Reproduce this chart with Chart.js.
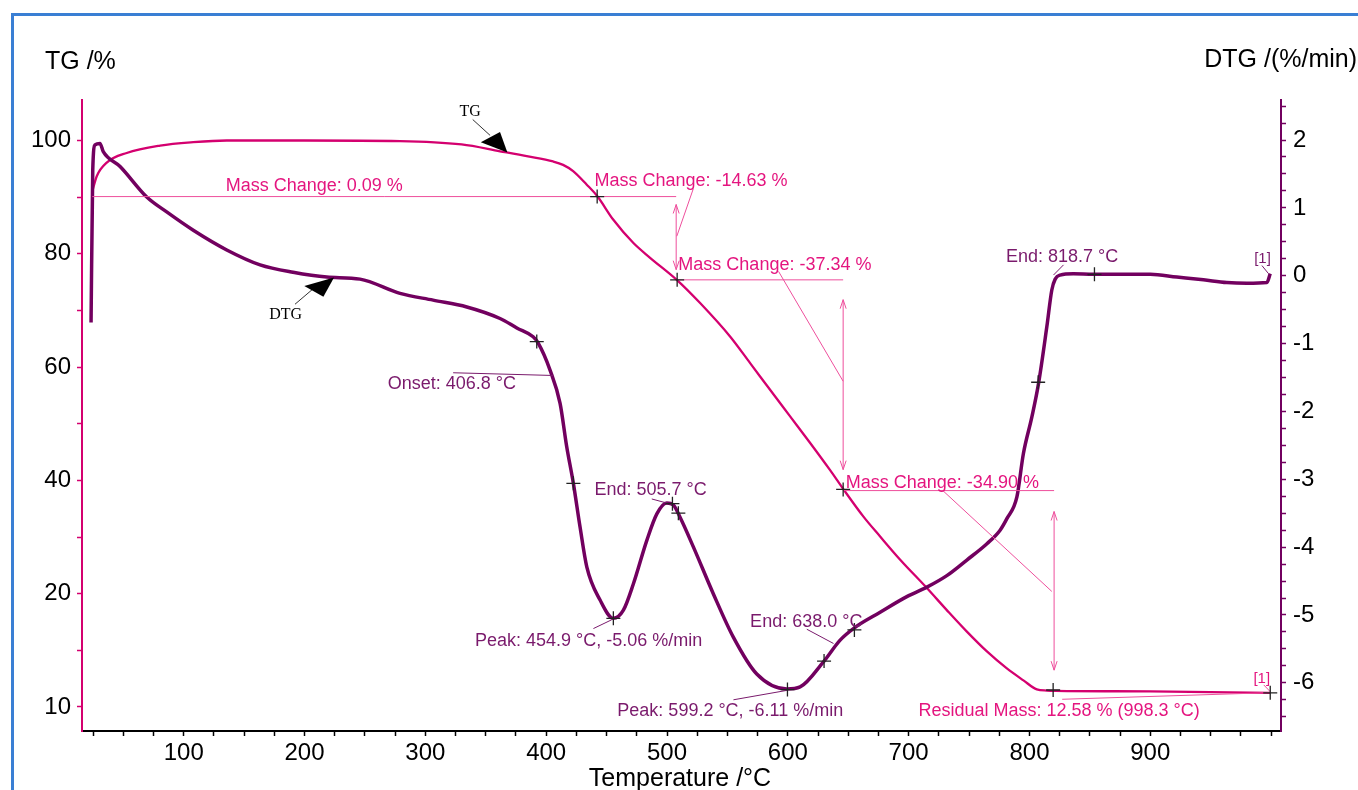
<!DOCTYPE html>
<html>
<head>
<meta charset="utf-8">
<script src="https://cdn.jsdelivr.net/npm/chart.js@4.4.1/dist/chart.umd.min.js"></script>
<style>
html, body { margin: 0; padding: 0; background: #fff; overflow: hidden; }
#chart { display: block; }
</style>
</head>
<body>
<canvas id="chart" width="1358" height="790"></canvas>
<script>
// TG curve (mass %, left axis)
var tgTemp = [24.3, 28.0, 36.3, 52.8, 80.4, 107.9, 135.6, 200, 279, 330, 361.8, 385, 405.7, 414, 422.3, 433.6, 442.2, 455.6, 472.2, 486.0, 508.1, 527.4, 552.2, 568.8, 585.3, 601.9, 618.5, 635.0, 645.5, 662.6, 676.4, 693, 715.1, 731.6, 748.2, 764.8, 781.3, 795.0, 806.1, 814.4, 822, 900, 999.3];
var tgMass = [91.0, 93.7, 96.1, 97.8, 99.1, 99.7, 100.0, 100.0, 99.9, 99.3, 98.1, 97.2, 96.3, 95.7, 94.6, 92.2, 90.2, 86.0, 81.9, 79.3, 75.4, 71.3, 65.4, 60.7, 56.0, 51.3, 46.6, 41.8, 38.6, 33.6, 30.1, 26.0, 21.0, 17.1, 13.3, 9.8, 6.8, 4.7, 3.1, 2.9, 2.85, 2.75, 2.5];

// DTG curve (%/min, right axis)
var dtgTemp = [23.3, 24.7, 26.6, 30.7, 33.4, 47.3, 69.4, 85.9, 107.9, 135.6, 163.2, 190.5, 218.4, 245.9, 279, 306.4, 334.3, 361.8, 375.7, 389.2, 393.3, 403.2, 411.5, 417, 422.5, 428, 433.6, 444.6, 455.6, 463.9, 472.2, 483.3, 491.6, 499.8, 505.3, 510.8, 521.9, 538.4, 555, 574.3, 599.2, 610.2, 629.5, 643.3, 654.3, 676.4, 698.5, 715.1, 731.6, 748.2, 764.8, 775.7, 781.3, 789.6, 795, 802, 807.5, 814.4, 818.5, 821.3, 825.4, 836.4, 852.7, 900, 922, 944, 963.4, 980, 996.5, 999.3];
var dtgRate = [-0.69, 1.56, 1.93, 1.95, 1.83, 1.61, 1.16, 0.94, 0.67, 0.38, 0.16, 0.05, -0.02, -0.05, -0.26, -0.36, -0.46, -0.63, -0.77, -0.90, -0.99, -1.39, -1.88, -2.52, -3.06, -3.70, -4.29, -4.78, -5.05, -4.93, -4.54, -3.90, -3.51, -3.35, -3.38, -3.56, -4.00, -4.69, -5.33, -5.87, -6.09, -6.06, -5.69, -5.37, -5.20, -4.96, -4.73, -4.59, -4.42, -4.19, -3.95, -3.75, -3.58, -3.26, -2.62, -2.08, -1.59, -0.75, -0.21, -0.05, 0.01, 0.03, 0.02, 0.02, -0.02, -0.06, -0.10, -0.11, -0.10, 0.03];

// ticks
var tempTicks = [25, 50, 75, 100, 125, 150, 175, 200, 225, 250, 275, 300, 325, 350, 375, 400, 425, 450, 475, 500, 525, 550, 575, 600, 625, 650, 675, 700, 725, 750, 775, 800, 825, 850, 875, 900, 925, 950, 975, 1000];
var tempLabels = [100, 200, 300, 400, 500, 600, 700, 800, 900];
var tgTicks = [0, 10, 20, 30, 40, 50, 60, 70, 80, 90, 100];
var tgTickText = { 0: '10', 20: '20', 40: '40', 60: '60', 80: '80', 100: '100' };
var dtgTicks = [-6.5, -6.25, -6, -5.75, -5.5, -5.25, -5, -4.75, -4.5, -4.25, -4, -3.75, -3.5, -3.25, -3, -2.75, -2.5, -2.25, -2, -1.75, -1.5, -1.25, -1, -0.75, -0.5, -0.25, 0, 0.25, 0.5, 0.75, 1, 1.25, 1.5, 1.75, 2, 2.25, 2.5];

// annotations on TG axis: [T, mass]
var tgCrosses = [[442.2, 90.1], [508.4, 75.4], [645.8, 38.4], [819.6, 3.0], [999.3, 2.5]];
var tgSegments = [
  [24.3, 90.1, 507.6, 90.1],
  [508.4, 75.4, 645.8, 75.4],
  [645.8, 38.2, 820.4, 38.2],
  [521.8, 91.5, 508.1, 83.1],
  [592.3, 76.9, 645.8, 57.5],
  [728.8, 38.1, 818.5, 20.4],
  [827.1, 1.36, 999.3, 2.53],
  [993.9, 3.9, 999.3, 2.7]
];
var tgArrows = [[507.6, 88.7, 77.2], [645.8, 71.9, 41.9], [820.4, 34.5, 6.5]];
var tgTexts = [
  ['Mass Change: 0.09 %', 134.8, 92.2, 18],
  ['Mass Change: -14.63 %', 439.9, 93.1, 18],
  ['Mass Change: -37.34 %', 509.4, 78.3, 18],
  ['Mass Change: -34.90 %', 648, 39.8, 18],
  ['Residual Mass: 12.58 % (998.3 °C)', 708.1, -0.5, 18],
  ['[1]', 985.4, 5.25, 15]
];

// annotations on DTG axis: [T, rate]
var dtgCrosses = [[392.2, -0.97], [422.5, -3.06], [455.6, -5.05], [504.5, -3.36], [509.4, -3.50], [599.7, -6.10], [630, -5.68], [655.1, -5.22], [807.2, -1.57], [853.8, 0.02]];
var dtgSegments = [
  [323, -1.43, 405.7, -1.47],
  [439.1, -5.20, 454.3, -5.07],
  [487.4, -3.29, 503.9, -3.37],
  [555, -6.25, 599.7, -6.11],
  [615.7, -5.21, 637.8, -5.42],
  [828.2, 0.16, 819.9, 0.01],
  [992.4, 0.15, 997.9, 0.03]
];
var dtgTexts = [
  ['Onset: 406.8 °C', 268.9, -1.58, 18],
  ['End: 505.7 °C', 439.9, -3.14, 18],
  ['Peak: 454.9 °C, -5.06 %/min', 341.1, -5.36, 18],
  ['Peak: 599.2 °C, -6.11 %/min', 458.9, -6.40, 18],
  ['End: 638.0 °C', 568.8, -5.08, 18],
  ['End: 818.7 °C', 780.5, 0.30, 18],
  ['[1]', 986, 0.26, 15]
];

// curve tags
var tgTag = { text: 'TG', at: [337.0, 105.35], leader: [339.2, 103.7, 353.6, 100.9], head: [[361.8, 101.5], [345.9, 99.7], [367.9, 97.9]] };
var dtgTag = { text: 'DTG', at: [184.3, -0.556], leader: [192.1, -0.42, 207.3, -0.19], head: [[199.8, -0.153], [215.6, -0.311], [224.4, -0.025]] };

var TG_COLOR = '#d4006f';
var TG_TEXT = '#e4157f';
var TG_THIN = '#ee4f9c';
var DTG_COLOR = '#72005f';
var DTG_TEXT = '#7a1a6c';
var SANS = "'Liberation Sans', Arial, sans-serif";

function pairs(xs, ys) {
  return xs.map(function (x, i) { return { x: x, y: ys[i] }; });
}

var overlay = {
  id: 'overlay',
  beforeDraw: function (chart) {
    var ctx = chart.ctx;
    ctx.save();
    ctx.strokeStyle = '#3a7fd4';
    ctx.lineWidth = 3;
    ctx.beginPath();
    ctx.moveTo(12.5, 790);
    ctx.lineTo(12.5, 14.5);
    ctx.lineTo(1358, 14.5);
    ctx.stroke();
    ctx.restore();
  },
  afterDatasetsDraw: function (chart) {
    var ctx = chart.ctx;
    var sx = chart.scales.x;
    function draw(axisId, crosses, segments, arrows, texts, thin, textColor) {
      var sy = chart.scales[axisId];
      var X = function (v) { return sx.getPixelForValue(v); };
      var Y = function (v) { return sy.getPixelForValue(v); };
      ctx.save();
      ctx.strokeStyle = thin;
      ctx.lineWidth = 1;
      segments.forEach(function (s) {
        ctx.beginPath();
        ctx.moveTo(X(s[0]), Y(s[1]));
        ctx.lineTo(X(s[2]), Y(s[3]));
        ctx.stroke();
      });
      arrows.forEach(function (a) {
        var x = X(a[0]), y1 = Y(a[1]), y2 = Y(a[2]);
        ctx.beginPath();
        ctx.moveTo(x, y1); ctx.lineTo(x, y2);
        ctx.moveTo(x - 3, y1 + 9); ctx.lineTo(x, y1); ctx.lineTo(x + 3, y1 + 9);
        ctx.moveTo(x - 3, y2 - 9); ctx.lineTo(x, y2); ctx.lineTo(x + 3, y2 - 9);
        ctx.stroke();
      });
      ctx.strokeStyle = '#222';
      ctx.lineWidth = 1.3;
      crosses.forEach(function (c) {
        var x = X(c[0]), y = Y(c[1]);
        ctx.beginPath();
        ctx.moveTo(x - 7, y); ctx.lineTo(x + 7, y);
        ctx.moveTo(x, y - 7); ctx.lineTo(x, y + 7);
        ctx.stroke();
      });
      ctx.fillStyle = textColor;
      ctx.textAlign = 'left';
      ctx.textBaseline = 'alphabetic';
      texts.forEach(function (t) {
        ctx.font = t[3] + 'px ' + SANS;
        ctx.fillText(t[0], X(t[1]), Y(t[2]) + 0.36 * t[3]);
      });
      ctx.restore();
    }
    function tag(axisId, t) {
      var sy = chart.scales[axisId];
      var X = function (v) { return sx.getPixelForValue(v); };
      var Y = function (v) { return sy.getPixelForValue(v); };
      ctx.save();
      ctx.fillStyle = '#000';
      ctx.strokeStyle = '#333';
      ctx.lineWidth = 1;
      ctx.font = "16px 'Liberation Serif', 'Times New Roman', serif";
      ctx.textAlign = 'center';
      ctx.textBaseline = 'alphabetic';
      ctx.fillText(t.text, X(t.at[0]), Y(t.at[1]) + 6);
      ctx.beginPath();
      ctx.moveTo(X(t.leader[0]), Y(t.leader[1]));
      ctx.lineTo(X(t.leader[2]), Y(t.leader[3]));
      ctx.stroke();
      ctx.beginPath();
      t.head.forEach(function (p, i) {
        if (i === 0) ctx.moveTo(X(p[0]), Y(p[1])); else ctx.lineTo(X(p[0]), Y(p[1]));
      });
      ctx.closePath();
      ctx.fill();
      ctx.restore();
    }
    draw('yTG', tgCrosses, tgSegments, tgArrows, tgTexts, TG_THIN, TG_TEXT);
    draw('yDTG', dtgCrosses, dtgSegments, [], dtgTexts, DTG_TEXT, DTG_TEXT);
    tag('yTG', tgTag);
    tag('yDTG', dtgTag);
  },
  afterDraw: function (chart) {
    var ctx = chart.ctx;
    ctx.save();
    ctx.fillStyle = '#000';
    ctx.font = '25px ' + SANS;
    ctx.textBaseline = 'alphabetic';
    ctx.textAlign = 'left';
    ctx.fillText('TG /%', 45, 69);
    ctx.textAlign = 'right';
    ctx.fillText('DTG /(%/min)', 1357, 67);
    ctx.textAlign = 'center';
    ctx.fillText('Temperature /°C', 680, 786);
    ctx.restore();
  }
};

new Chart(document.getElementById('chart'), {
  type: 'scatter',
  data: {
    datasets: [{
      label: 'DTG',
      data: pairs(dtgTemp, dtgRate),
      yAxisID: 'yDTG',
      showLine: true,
      borderColor: DTG_COLOR,
      borderWidth: 3.5,
      pointRadius: 0,
      cubicInterpolationMode: 'monotone'
    },
    {
      label: 'TG',
      data: pairs(tgTemp, tgMass),
      yAxisID: 'yTG',
      showLine: true,
      borderColor: TG_COLOR,
      borderWidth: 2.3,
      pointRadius: 0,
      cubicInterpolationMode: 'monotone'
    }]
  },
  options: {
    responsive: false,
    animation: false,
    devicePixelRatio: 1,
    layout: { padding: { top: 100, left: 0, right: 0, bottom: 0 } },
    plugins: {
      legend: { display: false },
      tooltip: { enabled: false }
    },
    scales: {
      x: {
        type: 'linear',
        min: 15.8,
        max: 1008.2,
        afterBuildTicks: function (s) { s.ticks = tempTicks.map(function (v) { return { value: v }; }); },
        afterFit: function (s) { s.height = 59; },
        grid: { display: true, drawOnChartArea: false, drawTicks: true, tickLength: 5, tickColor: '#000', tickWidth: 1.5 },
        border: { display: true, color: '#000', width: 2 },
        ticks: {
          autoSkip: false, maxRotation: 0, padding: 3, color: '#000',
          font: { size: 24, family: SANS },
          callback: function (v) { return tempLabels.indexOf(v) >= 0 ? String(v) : ''; }
        }
      },
      yTG: {
        type: 'linear',
        position: 'left',
        min: -4.24,
        max: 107.15,
        afterBuildTicks: function (s) { s.ticks = tgTicks.map(function (v) { return { value: v }; }); },
        afterFit: function (s) { s.width = 82; },
        grid: { display: true, drawOnChartArea: false, drawTicks: true, tickLength: 5, tickColor: TG_COLOR, tickWidth: 1.5 },
        border: { display: true, color: TG_COLOR, width: 2 },
        ticks: {
          autoSkip: false, padding: 6, color: '#000',
          font: { size: 24, family: SANS },
          callback: function (v) { return tgTickText[v] !== undefined ? tgTickText[v] : ''; }
        }
      },
      yDTG: {
        type: 'linear',
        position: 'right',
        min: -6.71,
        max: 2.59,
        afterBuildTicks: function (s) { s.ticks = dtgTicks.map(function (v) { return { value: v }; }); },
        afterFit: function (s) { s.width = 77; },
        grid: { display: true, drawOnChartArea: false, drawTicks: true, tickLength: 5, tickColor: DTG_COLOR, tickWidth: 1.5 },
        border: { display: true, color: DTG_COLOR, width: 2 },
        ticks: {
          autoSkip: false, padding: 7, color: '#000',
          font: { size: 24, family: SANS },
          callback: function (v) { return Number.isInteger(v) ? String(v) : ''; }
        }
      }
    }
  },
  plugins: [overlay]
});
</script>
</body>
</html>
